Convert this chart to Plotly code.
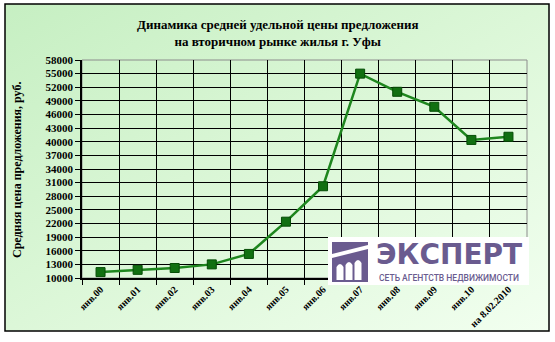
import base64
import plotly.graph_objects as go

categories = ["янв.00", "янв.01", "янв.02", "янв.03", "янв.04", "янв.05", "янв.06",
              "янв.07", "янв.08", "янв.09", "янв.10", "на 8.02.2010"]
prices = [11300, 11800, 12200, 13000, 15300, 22400, 30200,
          55000, 51000, 47700, 40400, 41100]
y_ticks = list(range(10000, 58001, 3000))

title_text = "Динамика средней удельной цены предложения<br>на вторичном рынке жилья г. Уфы"
y_title = "Средняя цена предложения, руб."

W, H = 555, 342
L, R, T, B = 82, 28, 60, 64
PW, PH = W - L - R, H - T - B


def px(x):
    return (x - L) / PW


def py(y):
    return (H - B - y) / PH


svg = ("<svg xmlns='http://www.w3.org/2000/svg' width='546' height='329'>"
       "<defs><linearGradient id='g' x1='0' y1='0' x2='1' y2='1'>"
       "<stop offset='0' stop-color='#c6efc2'/><stop offset='0.5' stop-color='#dcf7d8'/>"
       "<stop offset='1' stop-color='#f2fff0'/></linearGradient></defs>"
       "<rect x='1' y='1' width='544' height='327' fill='url(#g)' stroke='black' stroke-width='1.5'/></svg>")
bg_src = "data:image/svg+xml;base64," + base64.b64encode(svg.encode()).decode()

fig = go.Figure()
fig.add_trace(go.Scatter(
    x=categories, y=prices, mode="lines+markers",
    line=dict(color="#1e861e", width=2.5),
    marker=dict(symbol="square", size=9, color="#117011",
                line=dict(color="#064d06", width=1)),
    showlegend=False, hoverinfo="skip"))

serif = "Liberation Serif"
fig.update_layout(
    width=W, height=H,
    margin=dict(l=L, r=R, t=T, b=B),
    paper_bgcolor="white",
    plot_bgcolor="#fbfffa",
    font=dict(family=serif, color="black"),
    xaxis=dict(type="category", tickson="boundaries", showgrid=True,
               gridcolor="black", gridwidth=1, ticks="outside", ticklen=5,
               tickcolor="black", tickangle=-45, showline=True, linecolor="black",
               linewidth=1.5,
               tickfont=dict(family=serif, size=10, color="black", weight="bold"),
               range=[-0.5, 11.5]),
    yaxis=dict(range=[10000, 58000], tickvals=y_ticks, tickformat="d",
               showgrid=True, gridcolor="black", gridwidth=1,
               ticks="outside", ticklen=5, tickcolor="black",
               showline=True, linecolor="black", linewidth=1.5,
               zeroline=False,
               tickfont=dict(family=serif, size=11, color="black", weight="bold")),
    images=[dict(source=bg_src, xref="paper", yref="paper",
                 x=px(4), y=py(3), sizex=546 / PW, sizey=329 / PH,
                 xanchor="left", yanchor="top", sizing="stretch", layer="below")],
)

fig.add_shape(type="rect", xref="paper", yref="paper", x0=0, x1=1, y0=0, y1=1,
              line=dict(color="#8c8c8c", width=1), fillcolor="rgba(0,0,0,0)",
              layer="below")

fig.add_annotation(text=title_text, xref="paper", yref="paper",
                   x=px(277), y=py(33), xanchor="center", yanchor="middle",
                   showarrow=False, align="center",
                   font=dict(family=serif, size=13, color="black", weight="bold"))

fig.add_annotation(text=y_title, xref="paper", yref="paper",
                   x=px(17), y=py(170), xanchor="center", yanchor="middle",
                   showarrow=False, textangle=-90,
                   font=dict(family=serif, size=12, color="black", weight="bold"))

# logo
purple = "#6a5b8f"
fig.add_shape(type="rect", xref="paper", yref="paper",
              x0=px(328), x1=px(529), y0=py(285), y1=py(237),
              fillcolor="white", line=dict(width=0), layer="above")
fig.add_shape(type="rect", xref="paper", yref="paper",
              x0=px(332), x1=px(368), y0=py(282), y1=py(242),
              fillcolor=purple, line=dict(width=0), layer="above")
fig.add_shape(type="path", xref="paper", yref="paper",
              path=f"M {px(332)} {py(254)} L {px(368)} {py(245)} L {px(368)} {py(249)} L {px(332)} {py(258)} Z",
              fillcolor="white", line=dict(width=0), layer="above")
for cx, top in [(340, 264), (349, 262), (358, 260)]:
    x0, x1 = px(cx - 3.5), px(cx + 3.5)
    fig.add_shape(type="path", xref="paper", yref="paper",
                  path=(f"M {x0} {py(280)} L {x0} {py(top + 3)} "
                        f"Q {px(cx)} {py(top - 3)} {x1} {py(top + 3)} L {x1} {py(280)} Z"),
                  fillcolor="white", line=dict(width=0), layer="above")
fig.add_annotation(text="<b>ЭКСПЕРТ</b>", xref="paper", yref="paper",
                   x=px(449), y=py(254), xanchor="center", yanchor="middle",
                   showarrow=False,
                   font=dict(family="DejaVu Sans", size=28, color=purple))
fig.add_annotation(text="СЕТЬ АГЕНТСТВ НЕДВИЖИМОСТИ", xref="paper", yref="paper",
                   x=px(449), y=py(277.5), xanchor="center", yanchor="middle",
                   showarrow=False,
                   font=dict(family="Roboto", size=8.5, color=purple, weight=500))

fig.write_html("out.html")
